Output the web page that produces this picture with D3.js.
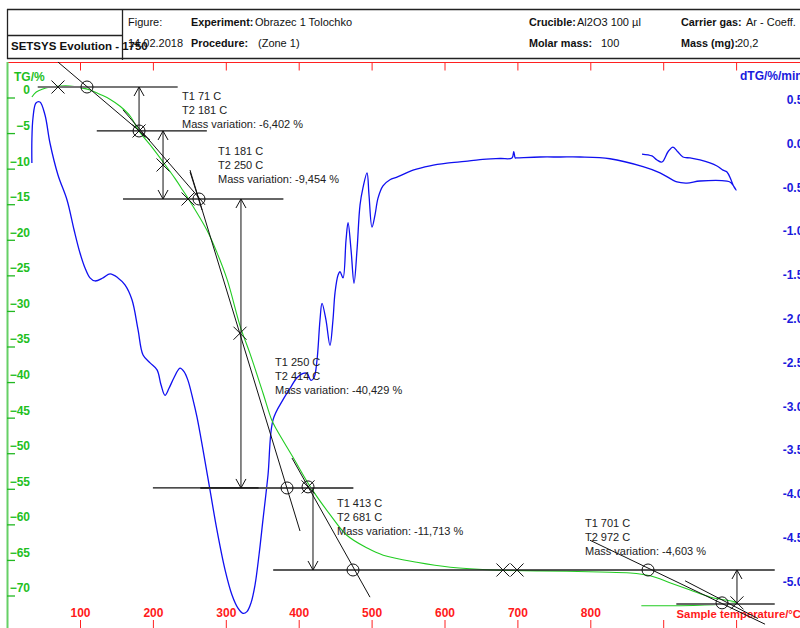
<!DOCTYPE html>
<html><head><meta charset="utf-8">
<script src="https://cdn.jsdelivr.net/npm/d3@7"></script>
<style>
html,body{margin:0;padding:0;background:#fff;overflow:hidden}
text{font-family:"Liberation Sans",Arial,sans-serif}
</style></head>
<body><svg id="c" width="800" height="628"></svg>
<script>
// ---------------- data ----------------
const tempTicks = [100,200,300,400,500,600,700,800,900,1000];
const tempLabels = ["100","200","300","400","500","600","700","800","",""];
const tgTicks = [0,-5,-10,-15,-20,-25,-30,-35,-40,-45,-50,-55,-60,-65,-70];
const dtgTicks = [0.5,0,-0.5,-1,-1.5,-2,-2.5,-3,-3.5,-4,-4.5,-5];
const dtgLabels = ["0.50","0.00","-0.50","-1.00","-1.50","-2.00","-2.50","-3.00","-3.50","-4.00","-4.50","-5.00"];

// TG curve: [temperature °C, TG %]
const tgTemp = [34,40,48,59,73,86,100,114,127,141,155,169,181,196,217,230,241,248,274,288,302,320,333,351,363,370,392,416,443,466,494,516,562,608,672,731,813,855,882,910,937,965,985,1000,978,923,870];
const tgVal  = [-1.2,-0.5,-0.1,0.2,0.35,0.35,0.14,-0.2,-0.8,-1.5,-2.5,-3.9,-6.0,-7.9,-10.75,-12.6,-14.3,-15.4,-19.9,-23.1,-26.9,-33.5,-37.2,-42.8,-46.6,-48.0,-51.8,-56.0,-59.9,-62.8,-64.6,-65.6,-66.6,-67.3,-67.7,-67.8,-67.96,-68.1,-68.5,-69.5,-70.5,-71.5,-71.9,-72.2,-72.5,-72.7,-72.7];

// dTG curve: [temperature °C, dTG %/min]
const dtgTemp = [34,34,35.5,39.6,45,52,58.8,69.8,82.2,91.8,100,106.9,113.7,120.6,131.6,141.2,152.1,161.7,171.3,179.6,186.5,196.1,205.7,211.1,216.6,222.1,228.9,237.2,242.7,248.1,255,260.5,268.7,278.3,287.9,298.9,308.5,316.7,323.6,329,334.6,340,345.6,351,357.9,364.8,378.5,388.1,397.7,406,411.4,416.9,421,425.1,429.2,432,437.4,442.9,447,449.8,453.9,456.7,460.8,464.9,467.7,471.8,475.9,480,484.1,488.2,493.7,496.4,500.5,504.7,508.8,515.6,525.2,534.8,556.8,580.1,603.4,628.1,648.7,676.2,692.6,695,697,699,731,758.7,786.1,827,872.3,895.6,918.9,932.6,950.5,987.5,991.6,995.7,1000,997,993,987.5,982,973.8,950.5,936.9,927.1,920,913.4,906.6,898.4,891.5,884.6,870.9];
const dtgVal  = [-0.228,0.034,0.285,0.457,0.468,0.32,0,-0.365,-0.65,-0.99,-1.256,-1.427,-1.54,-1.575,-1.54,-1.495,-1.54,-1.62,-1.79,-2.13,-2.42,-2.51,-2.59,-2.76,-2.88,-2.80,-2.68,-2.57,-2.61,-2.71,-2.93,-3.13,-3.50,-3.96,-4.42,-4.87,-5.16,-5.31,-5.37,-5.35,-5.25,-5.05,-4.70,-4.30,-3.79,-3.16,-2.93,-2.80,-2.68,-2.63,-2.63,-2.71,-2.68,-2.48,-2.02,-1.83,-2.02,-2.31,-2.02,-1.71,-1.51,-1.47,-1.54,-1.11,-0.91,-1.22,-1.60,-1.22,-0.71,-0.51,-0.34,-0.59,-0.96,-0.82,-0.63,-0.49,-0.42,-0.39,-0.31,-0.26,-0.23,-0.21,-0.19,-0.177,-0.171,-0.10,-0.17,-0.17,-0.16,-0.16,-0.16,-0.18,-0.27,-0.34,-0.445,-0.457,-0.434,-0.434,-0.445,-0.48,-0.537,-0.50,-0.42,-0.33,-0.31,-0.263,-0.194,-0.171,-0.16,-0.10,-0.046,-0.10,-0.217,-0.194,-0.148,-0.126];

// mass-loss steps
const stepT1 = ["71","181","250","413","701"];
const stepT2 = ["181","250","414","681","972"];
const stepMass = ["-6,402","-9,454","-40,429","-11,713","-4,603"];

// construction geometry (data units: [T, TG])
const levelLines = [ [42,234,0.21,"#777",2], [123,274,-5.97,"#111",1.3], [159,379,-15.53,"#333",1.6], [265,475,-56.15,"#555",2], [200,345,-56.15,"#111",1.2], [365,1053,-67.68,"#222",1.3], [918,1053,-72.46,"#666",2] ];
const arrows = [ [181,0.21,-5.97,1,0], [213.9,-5.97,-15.53,1,1], [320.8,-15.53,-56.15,1,1], [419.6,-56.15,-67.68,0,1], [1001.2,-67.68,-72.46,1,0] ];
const tangents = [ [[69.8,3.72],[196,-7.24]], [[159,-3.0],[271.5,-16.35]], [[251,-11.74],[267.4,-17.08]], [[250.9,-11.46],[401.8,-62.2]], [[390.8,-51.94],[497.8,-71.5]], [[799.6,-63.5],[1039.7,-75.3]], [[930,-69.2],[1030,-74.5]] ];
const crossMarks = [ [69.8,0.21],[181,-5.97],[213.9,-10.75],[248.2,-15.53],[319.5,-34.4],[412.8,-56.0],[680.2,-67.68],[699.5,-67.68],[1001.2,-72.3] ];
const circleMarks = [ [109.6,0.21],[181,-5.97],[263.2,-15.53],[384,-56.15],[412.8,-56.0],[474.5,-67.68],[879.2,-67.68],[980.7,-72.3] ];
const annotAnchors = [ [239.9,-1.05],[289.3,-8.79],[367.5,-38.45],[452.5,-58.27],[792.7,-61.08] ];

// ---------------- drawing ----------------
const svg = d3.select("#c");
const x = d3.scaleLinear().domain([0,1000]).range([7.1,736.1]);
const yT = d3.scaleLinear().domain([0,-70]).range([88.5,586.5]);
const yD = d3.scaleLinear().domain([0,-5]).range([143,581]);

// header
const hdr = svg.append("g");
hdr.append("line").attr("x1",7).attr("x2",800).attr("y1",9.5).attr("y2",9.5).attr("stroke","#222").attr("stroke-width",1.3);
hdr.append("line").attr("x1",7).attr("x2",800).attr("y1",58.5).attr("y2",58.5).attr("stroke","#222").attr("stroke-width",1.3);
hdr.append("line").attr("x1",7.5).attr("x2",7.5).attr("y1",9).attr("y2",59).attr("stroke","#222").attr("stroke-width",1.3);
hdr.append("line").attr("x1",122.5).attr("x2",122.5).attr("y1",9).attr("y2",60).attr("stroke","#222").attr("stroke-width",1.3);
hdr.append("line").attr("x1",7).attr("x2",122).attr("y1",35.5).attr("y2",35.5).attr("stroke","#222").attr("stroke-width",1.3);
function htxt(xp,yp,s,bold){ return hdr.append("text").attr("x",xp).attr("y",yp).attr("font-size",bold?10.8:11).attr("font-weight",bold?"bold":"normal").attr("fill","#111").text(s); }
htxt(128,26,"Figure:",false);
htxt(191,26,"Experiment:",true); htxt(255,26,"Obrazec 1 Tolochko",false);
htxt(128,47,"14.02.2018",false);
htxt(191,47,"Procedure:",true); htxt(258,47,"(Zone 1)",false);
htxt(529,26,"Crucible:",true); htxt(577,26,"Al2O3 100 µl",false);
htxt(529,47,"Molar mass:",true); htxt(601,47,"100",false);
htxt(681,26,"Carrier gas:",true); htxt(746,26,"Ar - Coeff.",false);
htxt(681,47,"Mass (mg):",true); htxt(737,47,"20,2",false);
hdr.append("text").attr("x",11).attr("y",50).attr("font-size",11.5).attr("font-weight","bold").attr("fill","#111").text("SETSYS Evolution - 1750");

// frame: top red line + ticks
svg.append("line").attr("x1",7).attr("x2",800).attr("y1",62.5).attr("y2",62.5).attr("stroke","#ff2020").attr("stroke-width",1.2);
const topAx = svg.append("g").attr("transform","translate(0,62.5)")
  .call(d3.axisBottom(x).tickValues(tempTicks).tickSize(8).tickFormat(""));
topAx.select(".domain").remove();
topAx.selectAll("line").attr("stroke","#ff2020");

// bottom axis
const botAx = svg.append("g").attr("transform","translate(0,620)")
  .call(d3.axisBottom(x).tickValues(tempTicks).tickSize(8).tickFormat((d,i)=>tempLabels[i]));
botAx.select(".domain").remove();
botAx.selectAll("line").attr("stroke","#ff2020");
botAx.selectAll("text").attr("y",-2).attr("dy","-0.1em").attr("fill","#ff1a1a")
  .attr("font-size",12).attr("font-weight","bold").attr("font-family","Liberation Sans, Arial");
svg.append("text").attr("x",801).attr("y",618).attr("text-anchor","end").attr("font-size",11.3)
  .attr("font-weight","bold").attr("fill","#ff1a1a").text("Sample temperature/°C");

// left TG axis
svg.append("line").attr("x1",7.5).attr("x2",7.5).attr("y1",62).attr("y2",628).attr("stroke","#66d066").attr("stroke-width",2);
const lAx = svg.append("g").attr("transform","translate(7,9)")
  .call(d3.axisRight(yT).tickValues(tgTicks).tickSize(8).tickFormat(d=>d3.format("d")(d)));
lAx.select(".domain").remove();
lAx.selectAll("line").attr("stroke","#22b822").attr("stroke-width",1.3);
lAx.selectAll("text").attr("x",23).attr("dy","-0.3em").attr("text-anchor","end").attr("fill","#1fbf1f")
  .attr("font-size",12).attr("font-weight","bold").attr("font-family","Liberation Sans, Arial");
svg.append("text").attr("x",14).attr("y",81).attr("font-size",12).attr("font-weight","bold").attr("fill","#1fbf1f").text("TG/%");

// right dTG axis
const rAx = svg.append("g").attr("transform","translate(810,0)")
  .call(d3.axisLeft(yD).tickValues(dtgTicks).tickSize(0).tickFormat((d,i)=>dtgLabels[i]));
rAx.select(".domain").remove();
rAx.selectAll("text").attr("x",0).attr("dy","0.35em").attr("text-anchor","end").attr("fill","#1a1add")
  .attr("font-size",12).attr("font-weight","bold").attr("font-family","Liberation Sans, Arial");
svg.append("text").attr("x",740).attr("y",80).attr("font-size",12).attr("font-weight","bold").attr("fill","#1a1add").text("dTG/%/min");

// curves
const tgData = tgTemp.map((t,i)=>[t,tgVal[i]]);
const dtgData = dtgTemp.map((t,i)=>[t,dtgVal[i]]);
svg.append("path").datum(dtgData).attr("fill","none").attr("stroke","#1010f0").attr("stroke-width",1.3)
  .attr("d",d3.line().x(d=>x(d[0])).y(d=>yD(d[1])).curve(d3.curveCatmullRom.alpha(0.5)));
svg.append("path").datum(tgData).attr("fill","none").attr("stroke","#22cc22").attr("stroke-width",1.1)
  .attr("d",d3.line().x(d=>x(d[0])).y(d=>yT(d[1])).curve(d3.curveCatmullRom.alpha(0.5)));

// construction
const cg = svg.append("g");
levelLines.forEach(l=>{
  cg.append("line").attr("x1",x(l[0])).attr("x2",x(l[1])).attr("y1",yT(l[2])).attr("y2",yT(l[2]))
    .attr("stroke",l[3]).attr("stroke-width",l[4]);
});
tangents.forEach(t=>{
  cg.append("line").attr("x1",x(t[0][0])).attr("y1",yT(t[0][1])).attr("x2",x(t[1][0])).attr("y2",yT(t[1][1]))
    .attr("stroke","#111").attr("stroke-width",1);
});
arrows.forEach(a=>{
  const xx=x(a[0]), y1=yT(a[1]), y2=yT(a[2]);
  cg.append("line").attr("x1",xx).attr("x2",xx).attr("y1",y1).attr("y2",y2).attr("stroke","#111").attr("stroke-width",1);
  if(a[3]) cg.append("path").attr("d",`M${xx-5},${y1+9}L${xx},${y1}L${xx+5},${y1+9}`).attr("fill","none").attr("stroke","#111");
  if(a[4]) cg.append("path").attr("d",`M${xx-5},${y2-9}L${xx},${y2}L${xx+5},${y2-9}`).attr("fill","none").attr("stroke","#111");
});
crossMarks.forEach(c=>{
  const cx=x(c[0]), cy=yT(c[1]), s=6.5;
  cg.append("path").attr("d",`M${cx-s},${cy-s}L${cx+s},${cy+s}M${cx-s},${cy+s}L${cx+s},${cy-s}`).attr("stroke","#111").attr("stroke-width",1);
});
circleMarks.forEach(c=>{
  cg.append("circle").attr("cx",x(c[0])).attr("cy",yT(c[1])).attr("r",6).attr("fill","none").attr("stroke","#111").attr("stroke-width",1);
});

// annotations
annotAnchors.forEach((p,i)=>{
  const ax=x(p[0]), ay=yT(p[1]);
  const lines=["T1 "+stepT1[i]+" C","T2 "+stepT2[i]+" C","Mass variation: "+stepMass[i]+" %"];
  lines.forEach((s,j)=>{
    svg.append("text").attr("x",ax).attr("y",ay+j*14).attr("dy","0.35em").attr("font-size",11).attr("fill","#222").text(s);
  });
});
</script></body></html>
